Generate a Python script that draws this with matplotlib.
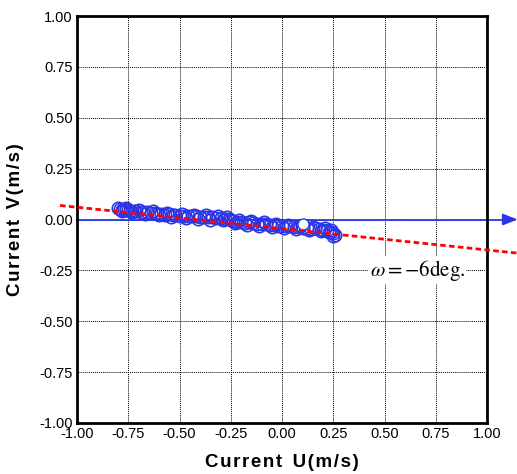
import numpy as np
import matplotlib.pyplot as plt

plt.rcParams['mathtext.fontset'] = 'stix'

# current measurements (U, V) in m/s
cur_u = [-0.80, -0.79, -0.78, -0.77, -0.76, -0.75, -0.74, -0.72, -0.71, -0.69,
         -0.68, -0.66, -0.64, -0.62, -0.61, -0.59, -0.57, -0.55, -0.53, -0.52,
         -0.50, -0.48, -0.46, -0.44, -0.42, -0.40, -0.38, -0.36, -0.34, -0.32,
         -0.30, -0.28, -0.26, -0.25, -0.24, -0.22, -0.20, -0.18, -0.16, -0.14,
         -0.12, -0.10, -0.08, -0.06, -0.04, -0.02, 0.00, 0.02, 0.04, 0.06,
         0.08, 0.10, 0.12, 0.14, 0.16, 0.18, 0.20, 0.22, 0.24, 0.25, 0.26,
         -0.78, -0.73, -0.67, -0.60, -0.54, -0.47, -0.41, -0.35, -0.29, -0.23,
         -0.17, -0.11, -0.05, 0.01, 0.07, 0.13, 0.19, 0.23, 0.25,
         -0.76, -0.70, -0.63, -0.56, -0.49, -0.43, -0.37, -0.31, -0.27, -0.21,
         -0.15, -0.09, -0.03, 0.03, 0.09, 0.15, 0.21, 0.24]
cur_v = [0.055, 0.050, 0.048, 0.052, 0.045, 0.047, 0.043, 0.040, 0.044, 0.038,
         0.036, 0.035, 0.030, 0.032, 0.028, 0.026, 0.024, 0.027, 0.022, 0.020,
         0.018, 0.016, 0.019, 0.015, 0.017, 0.013, 0.014, 0.010, 0.012, 0.008,
         0.006, 0.004, 0.002, -0.004, -0.008, -0.010, -0.012, -0.015, -0.014, -0.018,
         -0.020, -0.022, -0.020, -0.025, -0.028, -0.030, -0.032, -0.034, -0.030, -0.036,
         -0.038, -0.040, -0.042, -0.045, -0.043, -0.048, -0.050, -0.052, -0.060, -0.068,
         -0.075,
         0.040, 0.036, 0.028, 0.020, 0.012, 0.008, 0.004, 0.000, -0.004, -0.018,
         -0.026, -0.032, -0.038, -0.044, -0.048, -0.052, -0.058, -0.062, -0.082,
         0.058, 0.048, 0.040, 0.034, 0.026, 0.022, 0.020, 0.016, 0.010, 0.000,
         -0.008, -0.014, -0.020, -0.026, -0.030, -0.036, -0.040, -0.050]
odd_u, odd_v = [0.102], [-0.020]

# fitted principal direction, omega = -6 deg
fit_u = [-1.083, 1.146]
fit_v = [0.069, -0.165]

blue = '#2a36e6'


def spaced(s):
    # loose letter spacing like the original labels
    return '\u200a'.join(s).replace('\u200a \u200a', '  ')


fig = plt.figure(figsize=(5.17, 4.74), dpi=100)
ax = fig.add_axes([0.149, 0.1076, 0.793, 0.8586])

ax.plot(cur_u, cur_v, 'o', ms=9, mfc='none', mec=blue, mew=1.1, zorder=3)
ax.plot(odd_u, odd_v, 'o', ms=8, mfc='white', mec=blue, mew=1.0, zorder=4)

ax.plot(fit_u, fit_v, color='red', ls=(0, (2, 1.2)), lw=2, clip_on=False, zorder=5)

# u axis arrow
ax.plot([-1.0, 1.09], [0, 0], color=blue, lw=1.3, clip_on=False, zorder=2)
ax.annotate('', xy=(1.15, 0), xytext=(1.08, 0), annotation_clip=False,
            arrowprops=dict(arrowstyle='-|>,head_length=0.9,head_width=0.35',
                            color=blue, lw=1.3, shrinkA=0, shrinkB=0))

ax.text(0.66, -0.25, r'$\omega = -6\mathrm{deg.}$', fontsize=15,
        ha='center', va='center', zorder=6,
        bbox=dict(facecolor='white', edgecolor='none', pad=1))

ax.set_xlim(-1, 1)
ax.set_ylim(-1, 1)
ticks = np.arange(-1, 1.01, 0.25)
ax.set_xticks(ticks)
ax.set_yticks(ticks)
ax.set_xticklabels(['%.2f' % t for t in ticks], family='Liberation Sans', fontsize=10.5)
ax.set_yticklabels(['%.2f' % t for t in ticks], family='Liberation Sans', fontsize=10.5)
ax.tick_params(length=0, pad=3)
ax.grid(True, color='black', ls=(0, (1, 1)), lw=0.7)
for s in ax.spines.values():
    s.set_linewidth(2)

ax.set_xlabel(spaced('Current U(m/s)'), family='Liberation Sans', fontsize=13.5,
              fontweight='bold', labelpad=9)
ax.set_ylabel(spaced('Current V(m/s)'), family='Liberation Sans', fontsize=13.5,
              fontweight='bold', labelpad=11)

fig.savefig('out.png', dpi=100)
